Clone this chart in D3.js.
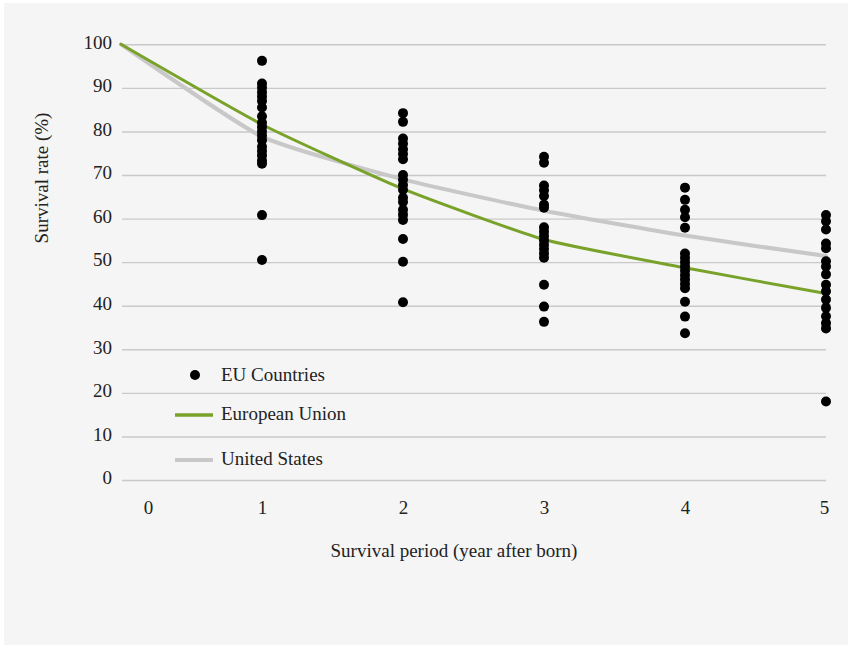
<!DOCTYPE html>
<html>
<head>
<meta charset="utf-8">
<script src="https://cdn.jsdelivr.net/npm/d3@7"></script>
<style>
  html, body { margin: 0; padding: 0; background: #ffffff; }
  svg { display: block; }
  text { font-family: "Liberation Serif", "Times New Roman", serif; fill: #222; }
</style>
</head>
<body>
<svg id="chart" width="848" height="645"></svg>
<script>
// ---- data ----
const years = [0, 1, 2, 3, 4, 5];
const xTickLabels = ["0", "1", "2", "3", "4", "5"];
const yTicks = [0, 10, 20, 30, 40, 50, 60, 70, 80, 90, 100];
const euUnionValues = [100, 81.6, 66.8, 55.2, 48.7, 42.8];
const usValues = [100, 78.8, 69.0, 61.8, 56.1, 51.4];
const countriesY1 = [96.2, 91, 90, 89, 88, 87, 85.5, 83.5, 82, 81, 80, 79, 78, 76.5, 75.5, 74.5, 73.3, 72.6, 60.8, 50.5];
const countriesY2 = [84.2, 82.2, 78.4, 77.2, 75.9, 74.8, 73.6, 70, 68.9, 67.7, 66.6, 64.8, 63.8, 62, 60.9, 59.7, 55.3, 50.1, 40.8];
const countriesY3 = [74.2, 72.8, 67.6, 66.5, 65.2, 63.2, 62.5, 58, 57, 56, 55, 54, 53, 52, 51, 44.8, 39.8, 36.3];
const countriesY4 = [67.1, 64.3, 62, 60.3, 57.9, 52, 51, 50, 49, 48, 47, 46, 45, 44, 40.9, 37.5, 33.7];
const countriesY5 = [60.8, 59.4, 57.5, 54.3, 53.2, 50.2, 49, 47.2, 44.8, 43.3, 41.4, 39.5, 37.6, 36, 34.8, 18];
const countryColumns = [
  { year: 1, values: countriesY1 },
  { year: 2, values: countriesY2 },
  { year: 3, values: countriesY3 },
  { year: 4, values: countriesY4 },
  { year: 5, values: countriesY5 }
];
const legendItems = ["EU Countries", "European Union", "United States"];

// ---- layout ----
const svg = d3.select("#chart");
svg.append("rect").attr("x", 4).attr("y", 3).attr("width", 844).attr("height", 642).attr("fill", "#f5f5f5");

const x = d3.scaleLinear().domain([0, 5]).range([121, 826]);
const y = d3.scaleLinear().domain([0, 100]).range([480, 44.3]);

// gridlines + y labels
const yAxis = d3.axisLeft(y).tickValues(yTicks).tickSize(-(826 - 122)).tickPadding(10).tickFormat(d3.format("d"));
const gy = svg.append("g").attr("transform", "translate(122,0)").call(yAxis);
gy.select(".domain").remove();
gy.selectAll(".tick line").attr("stroke", "#c9c9c9").attr("stroke-width", 1.4);
gy.selectAll(".tick text").attr("font-size", 19).attr("font-family", "Liberation Serif").attr("fill", "#222").attr("dy", "0.2em");

// x labels
const xAxis = d3.axisBottom(x).tickValues(years).tickSize(0).tickPadding(21).tickFormat((d, i) => xTickLabels[i]);
const gx = svg.append("g").attr("transform", "translate(0,480)").call(xAxis);
gx.select(".domain").remove();
gx.selectAll(".tick text").attr("font-size", 19).attr("font-family", "Liberation Serif").attr("fill", "#222")
  .attr("dx", d => d === 0 ? 27 : (d === 5 ? -2 : 0));

// axis titles
svg.append("text").attr("x", 454).attr("y", 557).attr("text-anchor", "middle").attr("font-size", 19).text("Survival period (year after born)");
svg.append("text").attr("transform", "translate(48,178) rotate(-90)").attr("text-anchor", "middle").attr("font-size", 19).text("Survival rate (%)");

// lines
const line = d3.line().x((d, i) => x(years[i])).y(d => y(d)).curve(d3.curveCardinal.tension(0.5));
svg.append("path").datum(usValues).attr("d", line).attr("fill", "none").attr("stroke", "#c8c8c8").attr("stroke-width", 4).attr("stroke-linecap", "round");
svg.append("path").datum(euUnionValues).attr("d", line).attr("fill", "none").attr("stroke", "#79a22a").attr("stroke-width", 3).attr("stroke-linecap", "round");

// country dots
const pts = countryColumns.flatMap(c => c.values.map(v => ({ year: c.year, v })));
svg.append("g").selectAll("circle").data(pts).join("circle")
  .attr("cx", d => x(d.year)).attr("cy", d => y(d.v)).attr("r", 5).attr("fill", "#000");

// legend
const lg = svg.append("g");
lg.append("circle").attr("cx", 195).attr("cy", 375).attr("r", 5).attr("fill", "#000");
lg.append("line").attr("x1", 175).attr("x2", 213).attr("y1", 415).attr("y2", 415).attr("stroke", "#79a22a").attr("stroke-width", 3.5);
lg.append("line").attr("x1", 175).attr("x2", 213).attr("y1", 460).attr("y2", 460).attr("stroke", "#c8c8c8").attr("stroke-width", 4);
legendItems.forEach((t, i) => {
  lg.append("text").attr("x", 221).attr("y", [375, 414, 459][i]).attr("dy", "0.33em").attr("font-size", 19).text(t);
});
</script>
</body>
</html>
